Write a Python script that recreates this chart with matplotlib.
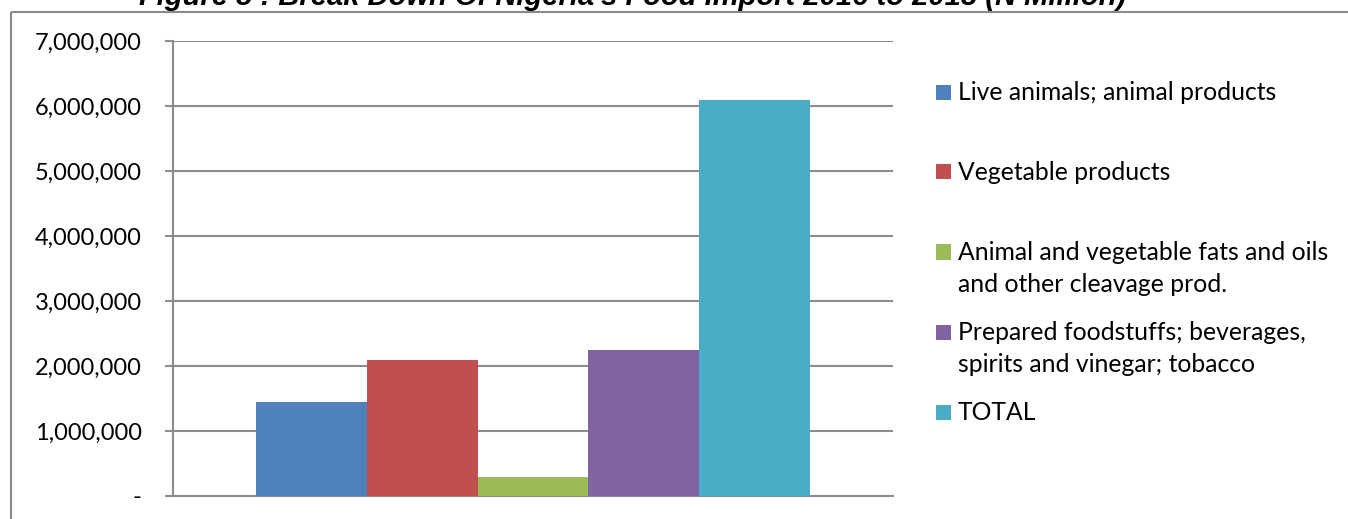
import matplotlib
matplotlib.use("Agg")
import matplotlib.pyplot as plt
from matplotlib.patches import Rectangle
from matplotlib.lines import Line2D
from matplotlib.ticker import FuncFormatter, MultipleLocator

# ---- data ----
series_labels = [
    "Live animals; animal products",
    "Vegetable products",
    "Animal and vegetable fats and oils\nand other cleavage prod.",
    "Prepared foodstuffs; beverages,\nspirits and vinegar; tobacco",
    "TOTAL",
]
series_values = [1440000, 2090000, 300000, 2240000, 6100000]
series_colors = ["#4F81BD", "#C0504D", "#9BBB59", "#8064A2", "#4BACC6"]
title_text = "Figure 5 : Break Down Of Nigeria's Food Import 2016 to 2018 (N Million)"

W, H = 1348, 519
DPI = 100
fig = plt.figure(figsize=(W / DPI, H / DPI), dpi=DPI)
fig.patch.set_facecolor("white")

def fx(px):
    return px / W

def fy(py):
    return 1 - py / H

GRID = "#8C8C8C"
FONT = "Lato"

# axes: left 173, right 893, top 41, bottom 496 (pixels)
ax = fig.add_axes([fx(173), fy(496), fx(893) - fx(173), fy(41) - fy(496)])

n = len(series_values)
gap = 1.5
bw = 1.0 / (n + gap)
start = -0.5 + gap * bw / 2
for i, (v, c) in enumerate(zip(series_values, series_colors)):
    ax.bar(start + bw * (i + 0.5), v, width=bw, color=c, linewidth=0, zorder=3)

ax.set_xlim(-0.5, 0.5)
ax.set_ylim(0, 7000000)
ax.yaxis.set_major_locator(MultipleLocator(1000000))
ax.yaxis.set_major_formatter(FuncFormatter(lambda v, p: "-" if v == 0 else f"{int(v):,}"))
ax.set_xticks([])
ax.grid(axis="y", color=GRID, linewidth=1.5, zorder=0)
for s in ["top", "right"]:
    ax.spines[s].set_visible(False)
for s in ["left", "bottom"]:
    ax.spines[s].set_color(GRID)
    ax.spines[s].set_linewidth(1.5)
ax.tick_params(axis="y", length=6, width=1.5, color=GRID, pad=16.5,
               labelsize=17, labelcolor="black")
for lbl in ax.get_yticklabels():
    lbl.set_fontfamily(FONT)

# chart border (top and left visible)
fig.add_artist(Line2D([fx(11), fx(11)], [fy(11.5), -0.02], color="#8A8A8A",
                      linewidth=1.5, solid_capstyle="butt"))
fig.add_artist(Line2D([fx(11), 1.02], [fy(11.5), fy(11.5)], color="#8A8A8A",
                      linewidth=1.5, solid_capstyle="butt"))

# title (cut off at top, as in the reference)
fig.text(fx(633), fy(5), title_text, ha="center", va="baseline",
         fontsize=21, fontweight="bold", fontstyle="italic",
         family="Liberation Sans", color="black")

# legend
leg_first_center = 92
leg_step = 80
line_step = 32
for i, (lab, c) in enumerate(zip(series_labels, series_colors)):
    cy = leg_first_center + i * leg_step
    fig.add_artist(Rectangle((fx(936), fy(cy + 7.5)), fx(15), fy(cy - 7.5) - fy(cy + 7.5),
                             transform=fig.transFigure, facecolor=c, edgecolor="none"))
    for j, line in enumerate(lab.split("\n")):
        fig.text(fx(958), fy(cy + 8 + j * line_step), line, ha="left", va="baseline",
                 fontsize=17.8, family=FONT, color="black")

fig.savefig("out.png", dpi=DPI, facecolor="white")
